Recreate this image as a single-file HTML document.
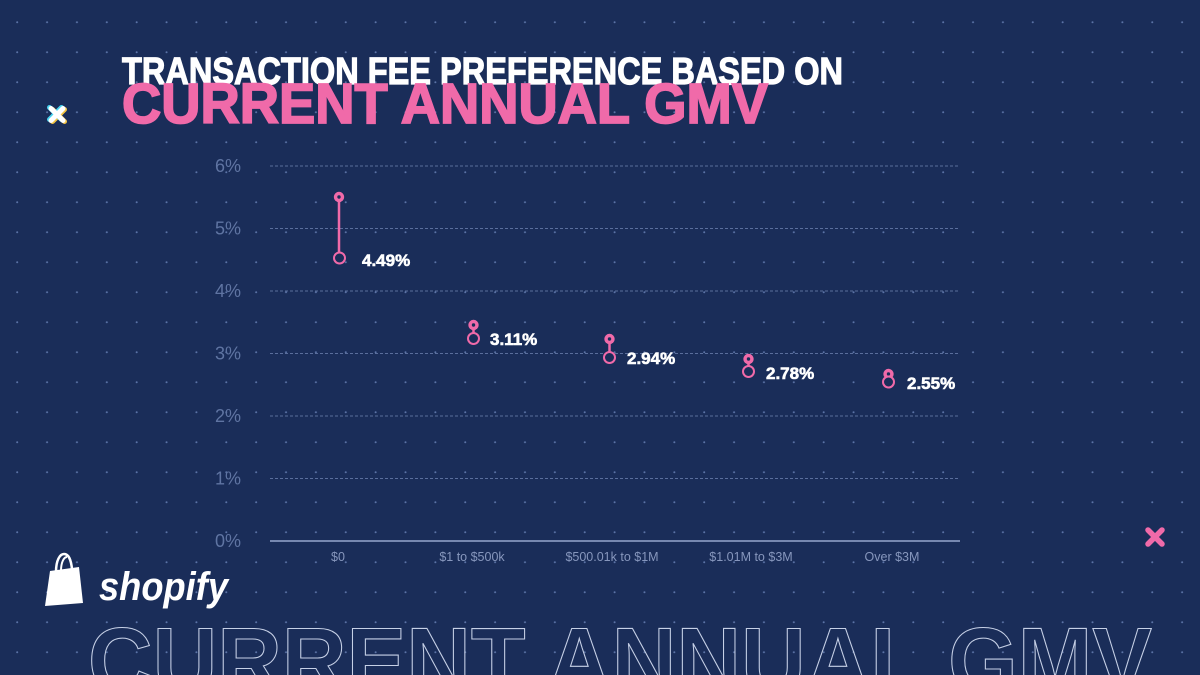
<!DOCTYPE html>
<html>
<head>
<meta charset="utf-8">
<style>
  html,body{margin:0;padding:0;background:#1a2d59;width:1200px;height:675px;overflow:hidden;}
  svg{display:block;}
</style>
</head>
<body>
<svg width="1200" height="675" viewBox="0 0 1200 675" xmlns="http://www.w3.org/2000/svg" overflow="hidden">
  <defs>
    <pattern id="dots" x="16" y="21" width="29.87" height="30" patternUnits="userSpaceOnUse">
      <circle cx="1.2" cy="1.2" r="1" fill="#5b73a6"/>
    </pattern>
    <clipPath id="frame"><rect width="1200" height="675"/></clipPath>
  </defs>
  <g clip-path="url(#frame)">
  <rect width="1200" height="675" fill="#1a2d59"/>
  <rect width="1200" height="675" fill="url(#dots)"/>

  <!-- Titles -->
  <text x="122" y="84" font-family="Liberation Sans, sans-serif" font-weight="bold" font-size="38" fill="#ffffff" stroke="#ffffff" stroke-width="1.2" textLength="721" lengthAdjust="spacingAndGlyphs">TRANSACTION FEE PREFERENCE BASED ON</text>
  <text x="122" y="123" font-family="Liberation Sans, sans-serif" font-weight="bold" font-size="57" fill="#f06aa9" stroke="#f06aa9" stroke-width="1.8" textLength="646" lengthAdjust="spacingAndGlyphs">CURRENT ANNUAL GMV</text>

  <!-- Left X icon -->
  <g stroke-linecap="round" stroke-width="5">
    <g transform="translate(58.5,115.5)" stroke="#f5c542"><line x1="-6" y1="-6" x2="6" y2="6"/><line x1="6" y1="-6" x2="-6" y2="6"/></g>
    <g transform="translate(55.5,113.5)" stroke="#49d4f0"><line x1="-6" y1="-6" x2="6" y2="6"/><line x1="6" y1="-6" x2="-6" y2="6"/></g>
    <g transform="translate(57,114.5)" stroke="#ffffff"><line x1="-6" y1="-6" x2="6" y2="6"/><line x1="6" y1="-6" x2="-6" y2="6"/></g>
  </g>

  <!-- Right X icon -->
  <g transform="translate(1155,537)" stroke="#f06aa9" stroke-width="5.5" stroke-linecap="round">
    <line x1="-7" y1="-7" x2="7" y2="7"/><line x1="7" y1="-7" x2="-7" y2="7"/>
  </g>

  <!-- Gridlines -->
  <g stroke="#5a6e9c" stroke-width="1" stroke-dasharray="3 2">
    <line x1="270" y1="166" x2="960" y2="166"/>
    <line x1="270" y1="228.5" x2="960" y2="228.5"/>
    <line x1="270" y1="291" x2="960" y2="291"/>
    <line x1="270" y1="353.5" x2="960" y2="353.5"/>
    <line x1="270" y1="416" x2="960" y2="416"/>
    <line x1="270" y1="478.5" x2="960" y2="478.5"/>
  </g>
  <line x1="270" y1="541" x2="960" y2="541" stroke="#7788b0" stroke-width="2"/>

  <!-- Y labels -->
  <g font-family="Liberation Sans, sans-serif" font-size="18" fill="#5f74a2" text-anchor="end">
    <text x="241" y="172">6%</text>
    <text x="241" y="234.5">5%</text>
    <text x="241" y="297">4%</text>
    <text x="241" y="359.5">3%</text>
    <text x="241" y="422">2%</text>
    <text x="241" y="484.5">1%</text>
    <text x="241" y="547">0%</text>
  </g>

  <!-- X labels -->
  <g font-family="Liberation Sans, sans-serif" font-size="12.5" fill="#8797bd" text-anchor="middle">
    <text x="338" y="561">$0</text>
    <text x="472" y="561">$1 to $500k</text>
    <text x="612" y="561">$500.01k to $1M</text>
    <text x="751" y="561">$1.01M to $3M</text>
    <text x="892" y="561">Over $3M</text>
  </g>

  <!-- Data -->
  <g stroke="#f06aa9" stroke-width="2.5">
    <line x1="339" y1="197" x2="339" y2="258"/>
    <line x1="473.5" y1="325" x2="473.5" y2="338"/>
    <line x1="609.5" y1="339" x2="609.5" y2="357"/>
    <line x1="748.5" y1="359" x2="748.5" y2="371"/>
    <line x1="888.5" y1="374" x2="888.5" y2="382"/>
  </g>
  <g fill="#f06aa9">
    <circle cx="339" cy="197" r="5.2"/>
    <circle cx="473.5" cy="325" r="5.2"/>
    <circle cx="609.5" cy="339" r="5.2"/>
    <circle cx="748.5" cy="359" r="5.2"/>
    <circle cx="888.5" cy="374" r="5.2"/>
  </g>
  <g fill="#1a2d59">
    <circle cx="339" cy="197" r="1.7"/>
    <circle cx="473.5" cy="325" r="1.7"/>
    <circle cx="609.5" cy="339" r="1.7"/>
    <circle cx="748.5" cy="359" r="1.7"/>
    <circle cx="888.5" cy="374" r="1.7"/>
  </g>
  <g fill="#1a2d59" stroke="#f06aa9" stroke-width="2">
    <circle cx="339.5" cy="258" r="5.5"/>
    <circle cx="473.5" cy="338.5" r="5.5"/>
    <circle cx="609.5" cy="357.5" r="5.5"/>
    <circle cx="748.5" cy="371.5" r="5.5"/>
    <circle cx="888.5" cy="382" r="5.5"/>
  </g>

  <g font-family="Liberation Sans, sans-serif" font-weight="bold" font-size="17" fill="#ffffff" stroke="#ffffff" stroke-width="0.6">
    <text x="362" y="266">4.49%</text>
    <text x="490" y="345">3.11%</text>
    <text x="627" y="364">2.94%</text>
    <text x="766" y="379">2.78%</text>
    <text x="907" y="389">2.55%</text>
  </g>

  <!-- Shopify logo -->
  <g fill="#ffffff">
    <path d="M50 571 L79 567 L83 603 L45 606 Z"/>
    <path d="M56 572 C56 560 60 554 64 554 C69 554 71 560 72 569" fill="none" stroke="#ffffff" stroke-width="2.5"/>
    <path d="M61 571 C61 562 64 557 67 557" fill="none" stroke="#ffffff" stroke-width="2"/>
  </g>
  <text x="99" y="600" font-family="Liberation Sans, sans-serif" font-weight="bold" font-style="italic" font-size="40" fill="#ffffff" textLength="129" lengthAdjust="spacingAndGlyphs">shopify</text>

  <!-- Outline bottom text -->
  <text x="88" y="693" font-family="Liberation Sans, sans-serif" font-weight="bold" font-size="94" fill="none" stroke="#c6d0e6" stroke-width="1.1" textLength="1064" lengthAdjust="spacingAndGlyphs">CURRENT ANNUAL GMV</text>
  </g>
</svg>
</body>
</html>
